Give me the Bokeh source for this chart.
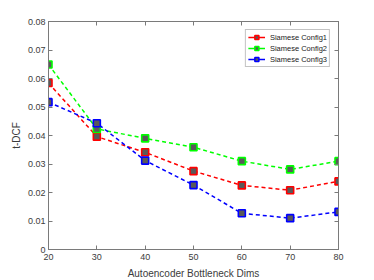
from bokeh.plotting import figure
from bokeh.models import LinearAxis, Range1d, FixedTicker, Legend, LegendItem, CustomJSTickFormatter
from bokeh.embed import file_html
from bokeh.resources import INLINE

dims = [20, 30, 40, 50, 60, 70, 80]
config1 = [0.0584, 0.0396, 0.0341, 0.0275, 0.0225, 0.0208, 0.0239]
config2 = [0.0649, 0.0423, 0.0390, 0.0359, 0.0310, 0.0281, 0.0310]
config3 = [0.0517, 0.0443, 0.0312, 0.0226, 0.0127, 0.0110, 0.0132]
names = ["Siamese Config1", "Siamese Config2", "Siamese Config3"]
colors = ["#ff0000", "#00ff00", "#0000ff"]
xticks = [20, 30, 40, 50, 60, 70, 80]
yticks = [0, 0.01, 0.02, 0.03, 0.04, 0.05, 0.06, 0.07, 0.08]

FONT = "Liberation Sans"
AX = "#7a7a7a"
TXT = "#3c3c3c"

p = figure(frame_width=290, frame_height=228, output_backend="svg", toolbar_location=None,
           x_range=Range1d(20, 80), y_range=Range1d(0, 0.08),
           min_border_left=48, min_border_top=21, min_border_right=20, min_border_bottom=10)
p.xgrid.visible = False
p.ygrid.visible = False
p.outline_line_color = AX
p.outline_line_width = 1

def style(ax, ticks, labels=True):
    ax.ticker = FixedTicker(ticks=ticks)
    ax.axis_line_color = AX
    ax.major_tick_line_color = AX
    ax.major_tick_in = 4
    ax.major_tick_out = 0
    ax.minor_tick_line_color = None
    ax.major_label_text_font = FONT
    ax.major_label_text_font_size = "9px"
    ax.major_label_text_color = TXT
    ax.axis_label_text_font = FONT
    ax.axis_label_text_font_size = "10px"
    ax.axis_label_text_font_style = "normal"
    ax.axis_label_text_color = TXT
    ax.major_label_standoff = 4
    ax.axis_label_standoff = 5
    if not labels:
        ax.major_label_text_font_size = "0px"
        ax.major_label_text_color = None

style(p.xaxis[0], xticks)
style(p.yaxis[0], yticks)
p.xaxis[0].axis_label = "Autoencoder Bottleneck Dims"
p.yaxis[0].axis_label = "t-DCF"
p.yaxis[0].axis_label_standoff = 3
p.yaxis[0].major_label_standoff = 3
p.yaxis[0].formatter = CustomJSTickFormatter(
    code="return Math.abs(tick) < 1e-9 ? '0' : tick.toFixed(2);")

top = LinearAxis()
style(top, xticks, labels=False)
p.add_layout(top, "above")
right = LinearAxis()
style(right, yticks, labels=False)
p.add_layout(right, "right")

nan = float("nan")
items = []
for name, ys, c in zip(names, [config1, config2, config3], colors):
    p.line(dims, ys, line_color=c, line_width=1.5, line_dash="4 3")
    r2 = p.scatter(dims, ys, marker="square", size=7, fill_color="#595959",
                   line_color=c, line_width=1.6)
    # solid line sample used only for the legend key (no visible data)
    r_leg = p.line(x=[nan, nan], y=[nan, nan], line_color=c, line_width=1.5)
    items.append(LegendItem(label=name, renderers=[r_leg, r2]))

leg = Legend(items=items, location="top_right")
leg.margin = 8
leg.padding = 2
leg.spacing = 1
leg.label_text_font = FONT
leg.label_text_font_size = "7.5px"
leg.label_text_color = "#222222"
leg.label_height = 10
leg.glyph_height = 10
leg.glyph_width = 17
leg.label_standoff = 5
leg.border_line_color = "#888888"
leg.border_line_width = 1
leg.background_fill_alpha = 1
p.add_layout(leg, "center")

open("out.html", "w").write(file_html(p, INLINE))
